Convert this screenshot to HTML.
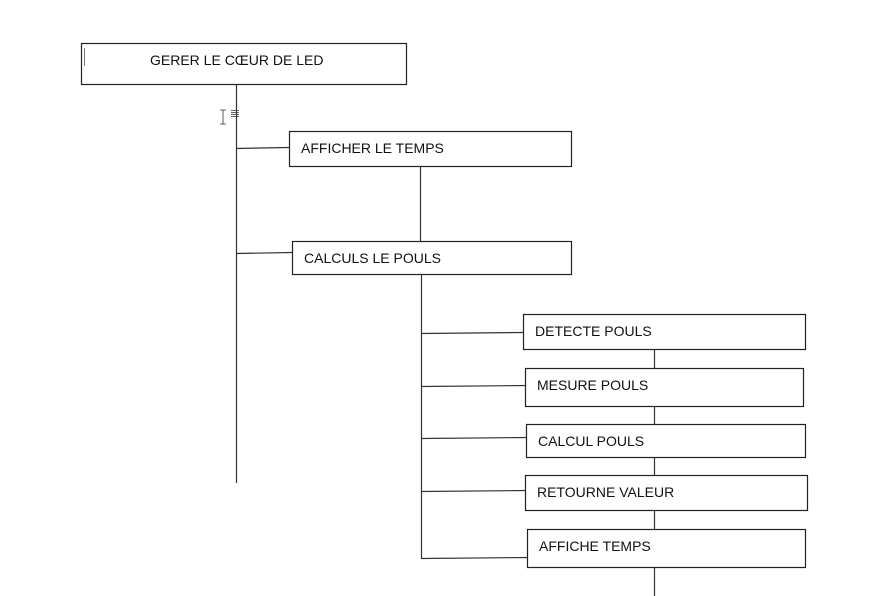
<!DOCTYPE html>
<html><head><meta charset="utf-8"><style>
html,body{margin:0;padding:0;background:#fff;width:883px;height:596px;overflow:hidden}
text{font-family:"Liberation Sans",sans-serif;font-size:14px;fill:#111}
</style></head><body>
<svg width="883" height="596" xmlns="http://www.w3.org/2000/svg">
<g stroke="#333" stroke-width="1.2" fill="none">
<line x1="236.5" y1="84" x2="236.5" y2="483"/>
<line x1="236" y1="148.5" x2="289" y2="147.5"/>
<line x1="236" y1="253.5" x2="292" y2="252.5"/>
<line x1="420.5" y1="166" x2="420.5" y2="241"/>
<line x1="421.5" y1="274" x2="421.5" y2="559"/>
<line x1="421" y1="333.5" x2="523" y2="332.5"/>
<line x1="421" y1="386.5" x2="528" y2="385.5"/>
<line x1="421" y1="438.5" x2="529" y2="437.5"/>
<line x1="421" y1="491.5" x2="528" y2="490.5"/>
<line x1="421" y1="558.5" x2="530" y2="557.5"/>
<line x1="654.5" y1="349" x2="654.5" y2="368"/>
<line x1="654.5" y1="406" x2="654.5" y2="424"/>
<line x1="654.5" y1="457" x2="654.5" y2="475"/>
<line x1="654.5" y1="510" x2="654.5" y2="529"/>
<line x1="654.5" y1="567" x2="654.5" y2="596"/>
</g>
<g fill="#fff" stroke="#222" stroke-width="1.2">
<rect x="81.5" y="43.5" width="325" height="41"/>
<rect x="289.5" y="131.5" width="282" height="35"/>
<rect x="292.5" y="241.5" width="279" height="33"/>
<rect x="523.5" y="314.5" width="282" height="35"/>
<rect x="525.5" y="368.5" width="278" height="38"/>
<rect x="526.5" y="424.5" width="279" height="33"/>
<rect x="525.5" y="475.5" width="282" height="35"/>
<rect x="527.5" y="529.5" width="278" height="38"/>
</g>
<line x1="84.5" y1="48" x2="84.5" y2="66" stroke="#777" stroke-width="1"/>
<g stroke="#333" stroke-width="0.8" fill="none">
<path d="M220 110h6M223 110v14M220 124h6"/>
<path d="M231 110.5h8M231 112.5h8M231 114.5h8M231 116.5h8"/>
</g>
<text x="150" y="65">GERER LE CŒUR DE LED</text>
<text x="301" y="153">AFFICHER LE TEMPS</text>
<text x="304" y="263">CALCULS LE POULS</text>
<text x="535" y="336">DETECTE POULS</text>
<text x="537" y="390">MESURE POULS</text>
<text x="538" y="446">CALCUL POULS</text>
<text x="537" y="497">RETOURNE VALEUR</text>
<text x="539" y="551">AFFICHE TEMPS</text>
</svg>
</body></html>
